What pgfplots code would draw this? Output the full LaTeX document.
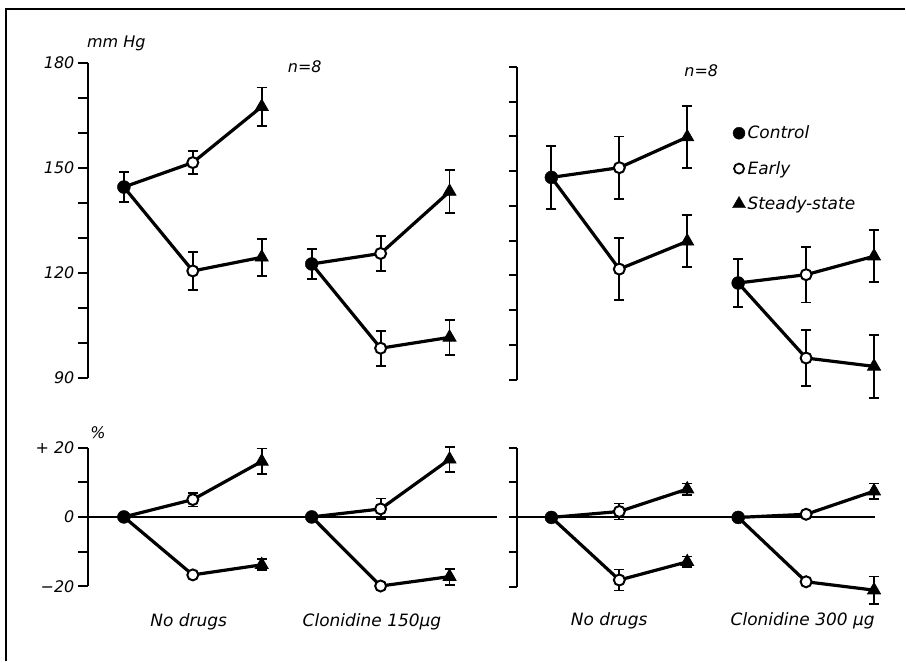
\documentclass[border=0pt]{standalone}
\usepackage{pgfplots}
\pgfplotsset{compat=1.18}
\usepackage{fontspec}
\setmainfont{DejaVu Sans}

\tikzset{
  lbl/.style={font=\fontsize{17}{20}\selectfont\itshape},
  note/.style={font=\fontsize{16}{19}\selectfont\itshape, inner sep=0pt},
}
\pgfplotsset{
  panel/.style={
    scale only axis, anchor=south west, clip=false,
    enlargelimits=false,
    axis y line*=left,
    y axis line style={-, line width=2pt},
    x axis line style={-, line width=2pt},
    tick align=outside,
    major tick length=10pt,
    ytick style={line width=2pt, black},
    xtick=\empty,
    tick label style={font=\fontsize{16}{18}\selectfont\itshape},
    /pgf/number format/assume math mode=true,
  },
  trend/.style={black, line width=3.2pt, line join=round, mark=none, forget plot},
  sem/.style={
    /pgfplots/error bars/y dir=both,
    /pgfplots/error bars/y explicit,
    /pgfplots/error bars/error mark=|,
    /pgfplots/error bars/error bar style={line width=1.8pt, black},
    /pgfplots/error bars/error mark options={line width=1.8pt, mark size=5pt, black}},
  control/.style={only marks, mark=*, mark size=6.5pt, mark options={fill=black, draw=black}, sem, forget plot},
  early/.style={only marks, mark=*, mark size=5.5pt, mark options={fill=white, draw=black, line width=2pt}, sem, forget plot},
  steady/.style={only marks, mark=triangle*, mark size=7.5pt, mark options={fill=black, draw=black, line width=0.8pt}, sem, forget plot},
}

\begin{document}
\begin{tikzpicture}
\path (0pt,0pt) rectangle (906pt,662pt);
\draw[line width=2pt] (6pt,0pt) -- (6pt,653pt) -- (906pt,653pt);

% ---- left panel, absolute pressure ----
\begin{axis}[panel, at={(88pt,284pt)}, width=410pt, height=315pt,
  axis x line=none,
  xmin=-0.522, xmax=5.42, ymin=90, ymax=180,
  ytick={90,100,...,180}, yticklabels={90,,,120,,,150,,,180}]
\addplot[trend] coordinates {(0,144.5) (1,151.5) (2,167.5)};
\addplot[trend] coordinates {(0,144.5) (1,120.5) (2,124.4)};
\addplot[trend] coordinates {(2.725,122.5) (3.725,125.5) (4.725,143.2)};
\addplot[trend] coordinates {(2.725,122.5) (3.725,98.4) (4.725,101.5)};
\addplot[control] coordinates {(0,144.5) +- (0,4.3) (2.725,122.5) +- (0,4.2)};
\addplot[early] coordinates {(1,151.5) +- (0,3.3) (1,120.5) +- (0,5.5) (3.725,125.5) +- (0,5.0) (3.725,98.4) +- (0,5.0)};
\addplot[steady] coordinates {(2,167.5) +- (0,5.5) (2,124.4) +- (0,5.3) (4.725,143.2) +- (0,6.1) (4.725,101.5) +- (0,5.0)};
\node[note, anchor=west] at (axis cs:-0.536,185.7) {mm Hg};
\node[note, anchor=west] at (axis cs:2.377,178.9) {n=8};
\end{axis}

% ---- right panel, absolute pressure ----
\begin{axis}[panel, at={(518pt,282pt)}, width=358pt, height=313pt,
  axis x line=none, major tick length=8pt,
  xmin=-0.5, xmax=4.765, ymin=90, ymax=180,
  ytick={90,100,...,180}, yticklabels={,,,,,,,,,},
  legend style={at={(axis cs:2.62,164.2)}, anchor=north west, draw=none, fill=none,
    font=\fontsize{17}{20}\selectfont\itshape, row sep=17pt},
  legend cell align=left,
  legend image code/.code={\draw[#1] plot coordinates {(0pt,0pt)};}]
\addplot[trend] coordinates {(0,148.2) (1,151.0) (2,159.8)};
\addplot[trend] coordinates {(0,148.2) (1,121.8) (2,129.8)};
\addplot[trend] coordinates {(2.75,117.8) (3.75,120.2) (4.75,125.5)};
\addplot[trend] coordinates {(2.75,117.8) (3.75,96.2) (4.75,93.8)};
\addplot[control] coordinates {(0,148.2) +- (0,9.0) (2.75,117.8) +- (0,7.0)};
\addplot[early] coordinates {(1,151.0) +- (0,9.0) (1,121.8) +- (0,9.0) (3.75,120.2) +- (0,8.0) (3.75,96.2) +- (0,8.0)};
\addplot[steady] coordinates {(2,159.8) +- (0,9.0) (2,129.8) +- (0,7.5) (4.75,125.5) +- (0,7.5) (4.75,93.8) +- (0,9.0)};
\addlegendimage{only marks, mark=*, mark size=6pt, mark options={fill=black}}
\addlegendentry{Control}
\addlegendimage{only marks, mark=*, mark size=5pt, mark options={fill=white, line width=1.8pt}}
\addlegendentry{Early}
\addlegendimage{only marks, mark=triangle*, mark size=7.5pt, mark options={fill=black}}
\addlegendentry{Steady-state}
\node[note, anchor=west] at (axis cs:1.956,178.8) {n=8};
\end{axis}

% ---- left panel, percentage change ----
\begin{axis}[panel, at={(88pt,75pt)}, width=410pt, height=139pt,
  axis x line*=middle,
  xmin=-0.522, xmax=5.42, ymin=-20, ymax=20,
  ytick={-20,-10,0,10,20}, yticklabels={−20,,0,,+ 20}]
\addplot[trend] coordinates {(0,0) (1,5.0) (2,16.0)};
\addplot[trend] coordinates {(0,0) (1,-16.7) (2,-13.8)};
\addplot[trend] coordinates {(2.725,0) (3.725,2.3) (4.725,16.6)};
\addplot[trend] coordinates {(2.725,0) (3.725,-19.9) (4.725,-17.2)};
\addplot[control] coordinates {(0,0) +- (0,0) (2.725,0) +- (0,0)};
\addplot[early] coordinates {(1,5.0) +- (0,2.0) (1,-16.7) +- (0,0.8) (3.725,2.3) +- (0,3.0) (3.725,-19.9) +- (0,0.8)};
\addplot[steady] coordinates {(2,16.0) +- (0,3.7) (2,-13.8) +- (0,1.6) (4.725,16.6) +- (0,3.6) (4.725,-17.2) +- (0,2.3)};
\node[note] at (axis cs:-0.377,24.3) {\%};
\node[lbl] at (axis cs:0.94,-30.1) {No drugs};
\node[lbl] at (axis cs:3.6,-30.1) {Clonidine 150µg};
\end{axis}

% ---- right panel, percentage change ----
\begin{axis}[panel, at={(518pt,74pt)}, width=358pt, height=140pt,
  axis x line*=middle, major tick length=8pt,
  xmin=-0.5, xmax=4.765, ymin=-20, ymax=20,
  ytick={-20,-10,0,10,20}, yticklabels={,,,,}]
\addplot[trend] coordinates {(0,0) (1,1.7) (2,8.1)};
\addplot[trend] coordinates {(0,0) (1,-17.9) (2,-12.7)};
\addplot[trend] coordinates {(2.75,0) (3.75,0.9) (4.75,7.5)};
\addplot[trend] coordinates {(2.75,0) (3.75,-18.4) (4.75,-20.8)};
\addplot[control] coordinates {(0,0) +- (0,0) (2.75,0) +- (0,0)};
\addplot[early] coordinates {(1,1.7) +- (0,2.3) (1,-17.9) +- (0,3.0) (3.75,0.9) +- (0,0.6) (3.75,-18.4) +- (0,0.6)};
\addplot[steady] coordinates {(2,8.1) +- (0,1.6) (2,-12.7) +- (0,1.5) (4.75,7.5) +- (0,2.2) (4.75,-20.8) +- (0,3.9)};
\node[lbl] at (axis cs:0.85,-29.7) {No drugs};
\node[lbl] at (axis cs:3.7,-29.7) {Clonidine 300 µg};
\end{axis}
\end{tikzpicture}
\end{document}
